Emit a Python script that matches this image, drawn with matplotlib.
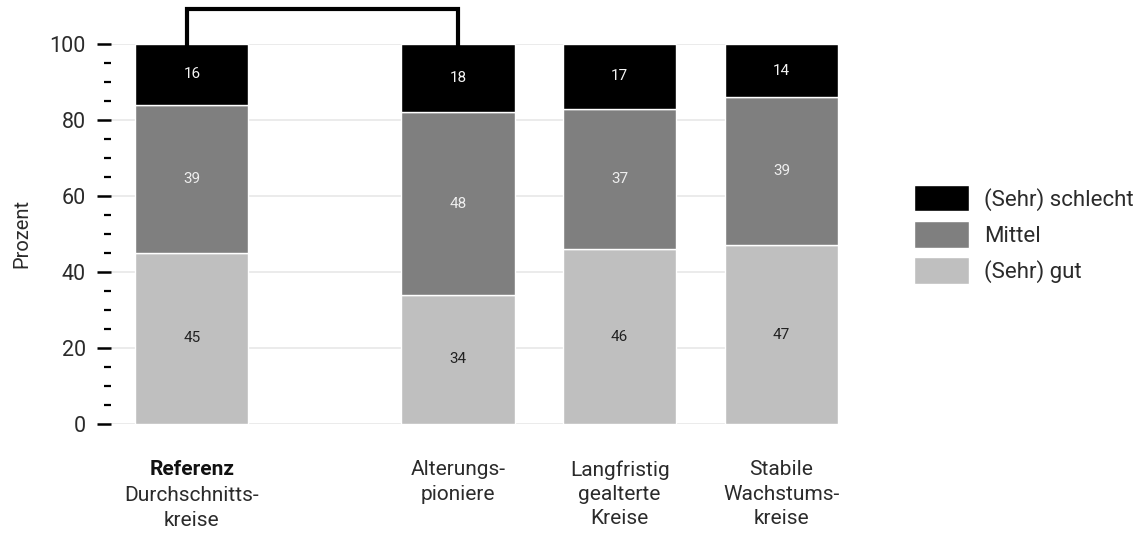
import matplotlib
matplotlib.use("Agg")
import matplotlib.pyplot as plt
from matplotlib.ticker import MultipleLocator
import numpy as np

plt.rcParams['font.family'] = ['Roboto', 'DejaVu Sans']

categories_bold = ["Referenz", "", "", ""]
categories = ["Durchschnitts-\nkreise", "Alterungs-\npioniere", "Langfristig\ngealterte\nKreise", "Stabile\nWachstums-\nkreise"]
series_names = ["(Sehr) gut", "Mittel", "(Sehr) schlecht"]
gut = [45, 34, 46, 47]
mittel = [39, 48, 37, 39]
schlecht = [16, 18, 17, 14]
y_ticks = [0, 20, 40, 60, 80, 100]

colors = ["#bfbfbf", "#7f7f7f", "#000000"]
label_colors = ["#222222", "#eeeeee", "#f4f4f4"]
xpos = np.array([0, 1.645, 2.645, 3.645])
width = 0.70
txt_color = "#2b2b2b"
fw = "normal"

fig = plt.figure(figsize=(11.48, 5.49), dpi=100)
ax = fig.add_axes([111/1148, 1-424/549, (838-111)/1148, 380/549])

ax.set_ylim(0, 100)
ax.set_xlim(-0.50, 3.995)

for y in y_ticks:
    ax.axhline(y, color="#e8e8e8", lw=1.2, zorder=0)

bottom = np.zeros(4)
handles = []
for vals, c, lc, name in zip([gut, mittel, schlecht], colors, label_colors, series_names):
    vals = np.array(vals, dtype=float)
    b = ax.bar(xpos, vals, width, bottom=bottom, color=c, edgecolor="white", lw=1, label=name, zorder=2)
    handles.append(b)
    for x, v, bt in zip(xpos, vals, bottom):
        ax.text(x, bt + v/2, f"{int(v)}", ha="center", va="center", color=lc,
                fontsize=11, fontweight=fw, zorder=3)
    bottom += vals

for s in ax.spines.values():
    s.set_visible(False)
ax.set_yticks(y_ticks)
ax.set_yticklabels([str(v) for v in y_ticks], fontsize=15.5, color=txt_color, fontweight=fw)
ax.yaxis.set_minor_locator(MultipleLocator(5))
ax.tick_params(axis="y", which="major", length=10, width=1.8, color="black", pad=8)
ax.tick_params(axis="y", which="minor", length=5, width=1.6, color="black")
ax.set_xticks([])
ax.set_ylabel("Prozent", fontsize=14.5, color=txt_color, labelpad=13, fontweight=fw)

# category labels
for x, bl, lab in zip(xpos, categories_bold, categories):
    if bl:
        ax.text(x, -9.6, bl, ha="center", va="top", fontsize=15, fontweight="bold", color="#111111")
        ax.text(x, -16.4, lab, ha="center", va="top", fontsize=15, color=txt_color,
                linespacing=1.35, fontweight=fw)
    else:
        ax.text(x, -9.6, lab, ha="center", va="top", fontsize=15, color=txt_color,
                linespacing=1.35, fontweight=fw)

# bracket between Referenz and Alterungspioniere
by = 109.3
ax.plot([xpos[0] - 0.03, xpos[0] - 0.03, xpos[1], xpos[1]], [100, by, by, 100],
        color="black", lw=3, clip_on=False, solid_joinstyle="miter", zorder=4)

leg = fig.legend(handles[::-1], series_names[::-1], loc="upper left",
                 bbox_to_anchor=(914/1148, 1-185/549), frameon=False,
                 prop={"size": 16, "weight": fw},
                 handlelength=2.47, handleheight=1.45, labelspacing=0.44, handletextpad=0.68,
                 borderaxespad=0, borderpad=0)
for t in leg.get_texts():
    t.set_color(txt_color)

fig.savefig("out.png", dpi=100)
